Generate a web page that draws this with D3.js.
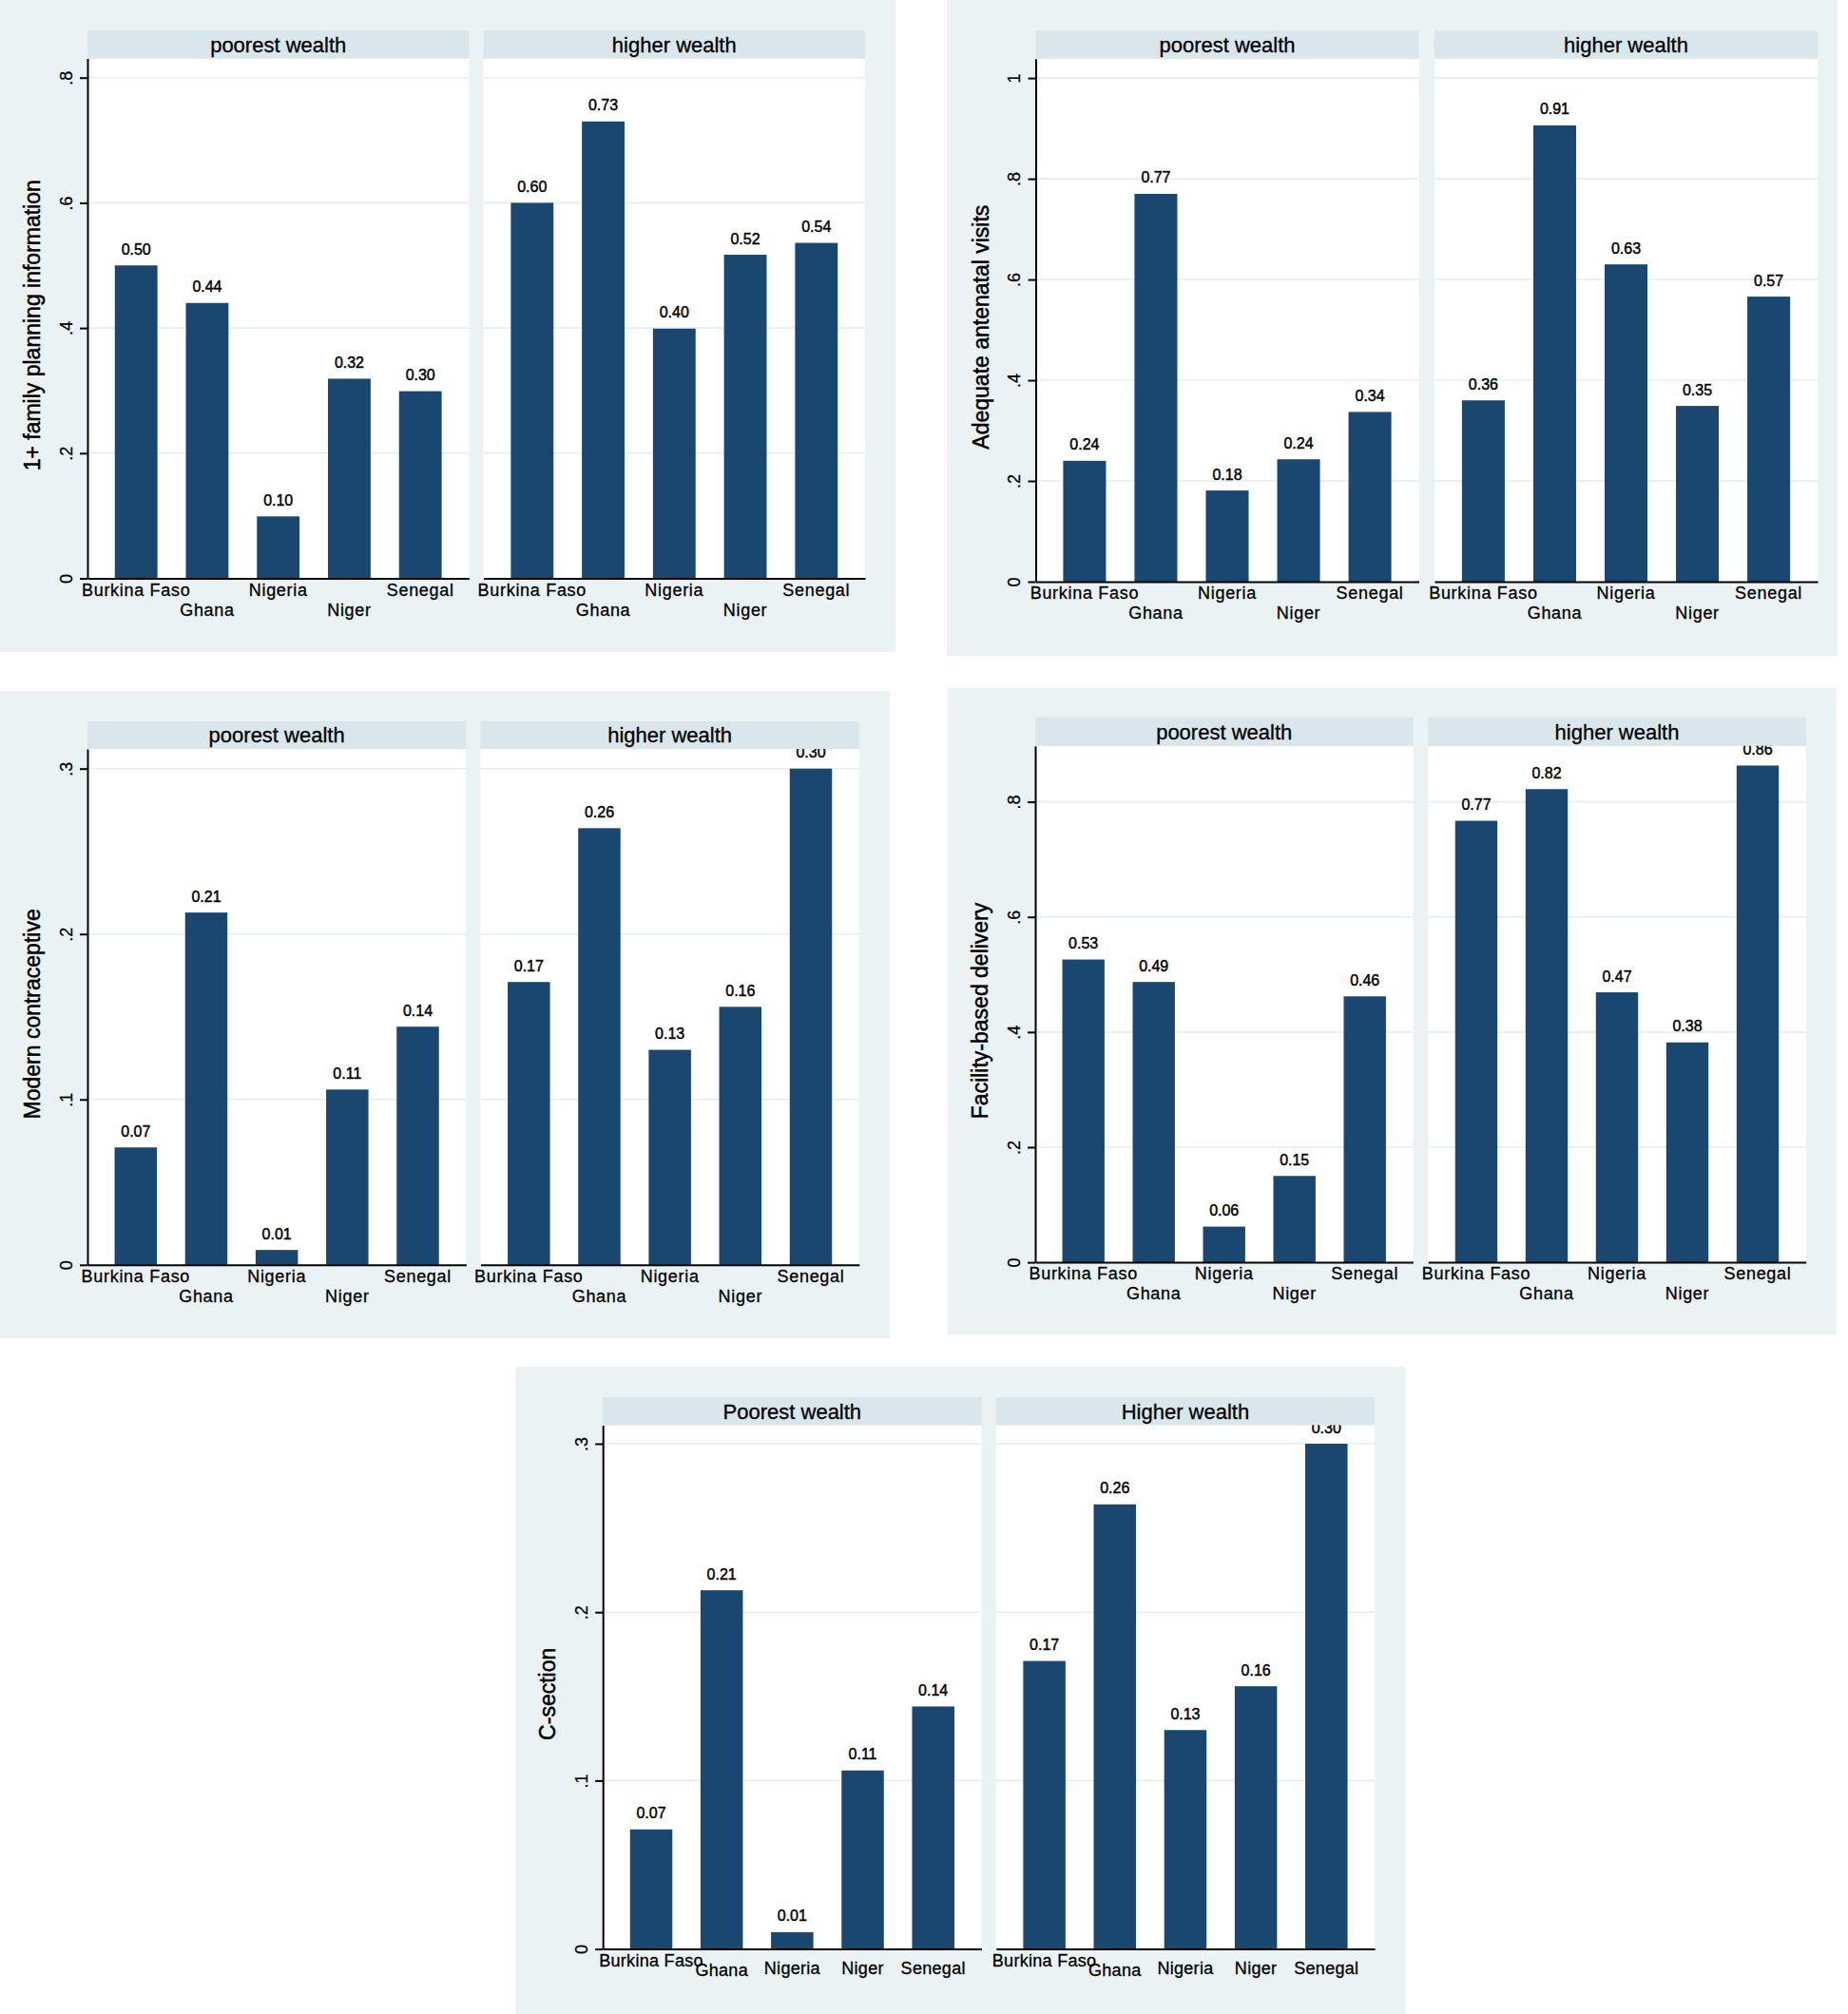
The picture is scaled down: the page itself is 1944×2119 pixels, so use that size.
<!DOCTYPE html>
<html><head><meta charset="utf-8">
<script src="https://cdn.jsdelivr.net/npm/d3@7"></script>
<style>body{margin:0;background:#fff}svg{display:block}</style>
</head><body>
<svg id="chart" width="1944" height="2119"></svg>
<script>
// ---------- data ----------
const countries = ["Burkina Faso", "Ghana", "Nigeria", "Niger", "Senegal"];
const wealthGroups = ["poorest wealth", "higher wealth"];
const wealthGroupsCap = ["Poorest wealth", "Higher wealth"];

const familyPlanningPoorest = [0.500, 0.440, 0.099, 0.319, 0.299];
const familyPlanningHigher  = [0.600, 0.730, 0.399, 0.517, 0.536];
const antenatalPoorest      = [0.240, 0.770, 0.181, 0.243, 0.337];
const antenatalHigher       = [0.360, 0.906, 0.630, 0.349, 0.566];
const contraceptivePoorest  = [0.071, 0.213, 0.009, 0.106, 0.144];
const contraceptiveHigher   = [0.171, 0.264, 0.130, 0.156, 0.300];
const deliveryPoorest       = [0.526, 0.487, 0.062, 0.150, 0.462];
const deliveryHigher        = [0.767, 0.822, 0.469, 0.382, 0.863];
const csectionPoorest       = [0.071, 0.213, 0.010, 0.106, 0.144];
const csectionHigher        = [0.171, 0.264, 0.130, 0.156, 0.300];

const ticksFP  = [0, 0.2, 0.4, 0.6, 0.8];
const tickLabelsFP = ["0", ".2", ".4", ".6", ".8"];
const ticksANC = [0, 0.2, 0.4, 0.6, 0.8, 1];
const tickLabelsANC = ["0", ".2", ".4", ".6", ".8", "1"];
const ticksMC  = [0, 0.1, 0.2, 0.3];
const tickLabelsMC = ["0", ".1", ".2", ".3"];
const ticksFBD = [0, 0.2, 0.4, 0.6, 0.8];
const tickLabelsFBD = ["0", ".2", ".4", ".6", ".8"];
const ticksCS  = [0, 0.1, 0.2, 0.3];
const tickLabelsCS = ["0", ".1", ".2", ".3"];

const yTitles = ["1+ family planning information", "Adequate antenatal visits",
                 "Modern contraceptive", "Facility-based delivery", "C-section"];

// ---------- layout / style ----------
const COL = {bg: "#eaf2f3", strip: "#d9e6eb", bar: "#1a476f", grid: "#e4eef0", ink: "#000"};
const FONT = "'Liberation Sans', Arial, Helvetica, sans-serif";
const altRows = [18.4, 39, 18.4, 39, 18.4];
const singleRow = [18.5, 28.5, 26.2, 26.2, 26.2];

const panels = [
  {title: yTitles[0], groups: wealthGroups, poor: familyPlanningPoorest, high: familyPlanningHigher,
   ticks: ticksFP, tickLabels: tickLabelsFP, topTick: 0.8,
   bg: [0, 0, 942, 686], axisX: 92, rightX: 508.6, plotW: 401.4,
   stripTop: 32, stripBottom: 61.6, y0: 608.5, topTickY: 81.7, rows: altRows, ls: 0.7},
  {title: yTitles[1], groups: wealthGroups, poor: antenatalPoorest, high: antenatalHigher,
   ticks: ticksANC, tickLabels: tickLabelsANC, topTick: 1,
   bg: [996, 0, 937, 690], axisX: 1089.5, rightX: 1509, plotW: 403,
   stripTop: 32.3, stripBottom: 61.8, y0: 612, topTickY: 82.1, rows: altRows, ls: 0.7},
  {title: yTitles[2], groups: wealthGroups, poor: contraceptivePoorest, high: contraceptiveHigher,
   ticks: ticksMC, tickLabels: tickLabelsMC, topTick: 0.3,
   bg: [0, 727, 936, 681], axisX: 92, rightX: 505.5, plotW: 398.3,
   stripTop: 759, stripBottom: 788, y0: 1330.8, topTickY: 808.7, rows: altRows, ls: 0.7},
  {title: yTitles[3], groups: wealthGroups, poor: deliveryPoorest, high: deliveryHigher,
   ticks: ticksFBD, tickLabels: tickLabelsFBD, topTick: 0.8,
   bg: [996.6, 723.6, 935.7, 680.4], axisX: 1089, rightX: 1502.3, plotW: 397.4,
   stripTop: 754.8, stripBottom: 784.7, y0: 1328.1, topTickY: 843.6, rows: altRows, ls: 0.7},
  {title: yTitles[4], groups: wealthGroupsCap, poor: csectionPoorest, high: csectionHigher,
   ticks: ticksCS, tickLabels: tickLabelsCS, topTick: 0.3,
   bg: [542.3, 1437.8, 936.2, 681.2], axisX: 634.2, rightX: 1047.8, plotW: 398.3,
   stripTop: 1470, stripBottom: 1499.4, y0: 2050.6, topTickY: 1519, rows: singleRow, ls: 0.3}
];

// ---------- draw ----------
const svg = d3.select("#chart");
svg.append("rect").attr("width", 1944).attr("height", 2119).attr("fill", "#fff");
const fmt = d3.format(".2f");
const heavy = (sel, w) => sel.attr("stroke", COL.ink).attr("stroke-width", w);

panels.forEach(p => {
  const g = svg.append("g");
  g.append("rect").attr("x", p.bg[0]).attr("y", p.bg[1]).attr("width", p.bg[2]).attr("height", p.bg[3])
    .attr("fill", COL.bg);

  const yMax = p.topTick * (p.y0 - p.stripBottom) / (p.y0 - p.topTickY);
  const y = d3.scaleLinear().domain([0, yMax]).range([p.y0, p.stripBottom]);

  const facets = [
    {x0: p.axisX, label: p.groups[0], values: p.poor},
    {x0: p.rightX, label: p.groups[1], values: p.high}
  ];

  facets.forEach(f => {
    const fg = g.append("g");
    const x = d3.scaleBand().domain(countries).range([f.x0, f.x0 + p.plotW])
      .paddingInner(0.4).paddingOuter(0.385);

    fg.append("rect").attr("x", f.x0).attr("y", p.stripBottom)
      .attr("width", p.plotW).attr("height", p.y0 - p.stripBottom).attr("fill", "#fff");

    fg.selectAll("line.grid").data(p.ticks.filter(t => t > 0)).join("line")
      .attr("class", "grid")
      .attr("x1", f.x0).attr("x2", f.x0 + p.plotW)
      .attr("y1", d => y(d)).attr("y2", d => y(d))
      .attr("stroke", COL.grid).attr("stroke-width", 1.6);

    const data = countries.map((c, i) => ({c, v: f.values[i]}));
    fg.selectAll("rect.bar").data(data).join("rect")
      .attr("class", "bar")
      .attr("x", d => x(d.c)).attr("width", x.bandwidth())
      .attr("y", d => y(d.v)).attr("height", d => p.y0 - y(d.v))
      .attr("fill", COL.bar);

    fg.selectAll("text.val").data(data).join("text")
      .attr("class", "val")
      .attr("x", d => x(d.c) + x.bandwidth() / 2)
      .attr("y", d => y(d.v) - 11.5)
      .attr("text-anchor", "middle")
      .attr("font-family", FONT).attr("font-size", 16)
      .attr("fill", COL.ink)
      .call(heavy, 0.45)
      .text(d => fmt(d.v));

    // x axis
    const xAxis = d3.axisBottom(x).tickSize(0).tickSizeOuter(0);
    const xa = fg.append("g").attr("transform", `translate(0,${p.y0})`).call(xAxis);
    xa.select(".domain").attr("stroke", COL.ink).attr("stroke-width", 2);
    xa.selectAll(".tick text")
      .attr("font-family", FONT).attr("font-size", 18)
      .attr("letter-spacing", p.ls)
      .attr("fill", COL.ink)
      .call(heavy, 0.3)
      .attr("dy", 0)
      .attr("y", (d, i) => p.rows[i]);

    // strip
    fg.append("rect").attr("x", f.x0).attr("y", p.stripTop)
      .attr("width", p.plotW).attr("height", p.stripBottom - p.stripTop)
      .attr("fill", COL.strip);
    fg.append("text")
      .attr("x", f.x0 + p.plotW / 2).attr("y", (p.stripTop + p.stripBottom) / 2)
      .attr("dy", "0.36em")
      .attr("text-anchor", "middle")
      .attr("font-family", FONT).attr("font-size", 22)
      .attr("fill", COL.ink)
      .call(heavy, 0.3)
      .text(f.label);
  });

  // y axis (left facet only)
  const yAxis = d3.axisLeft(y).tickValues(p.ticks).tickSize(8).tickSizeOuter(0)
    .tickFormat((d, i) => p.tickLabels[i]);
  const ya = g.append("g").attr("transform", `translate(${p.axisX},0)`).call(yAxis);
  ya.select(".domain").attr("stroke", COL.ink).attr("stroke-width", 2);
  ya.selectAll(".tick line").attr("stroke", COL.ink).attr("stroke-width", 2);
  ya.selectAll(".tick text")
    .attr("font-family", FONT).attr("font-size", 18)
    .attr("fill", COL.ink)
    .call(heavy, 0.3)
    .attr("text-anchor", "middle")
    .attr("x", 0).attr("y", -16.5).attr("dy", 0)
    .attr("transform", "rotate(-90)");

  // y title
  const cy = (p.stripTop + p.y0 + 44) / 2;
  g.append("text")
    .attr("transform", `translate(${p.axisX - 50},${cy}) rotate(-90)`)
    .attr("text-anchor", "middle")
    .attr("font-family", FONT).attr("font-size", 23)
    .attr("fill", COL.ink)
    .call(heavy, 0.5)
    .text(p.title);
});
</script>
</body></html>
